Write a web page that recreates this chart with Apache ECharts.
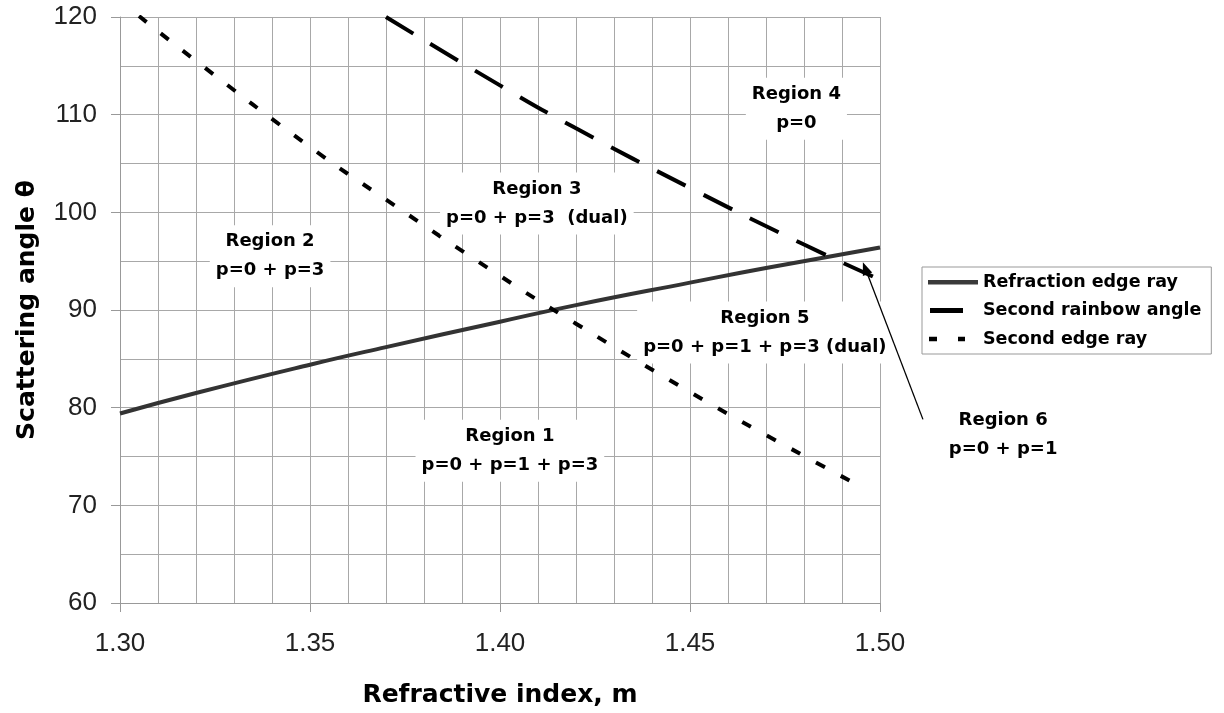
<!DOCTYPE html>
<html><head><meta charset="utf-8">
<script src="https://cdn.jsdelivr.net/npm/echarts@6/dist/echarts.min.js"></script>
<style>html,body{margin:0;padding:0;background:#fff}#c{width:1224px;height:713px}</style>
</head><body><div id="c"></div>
<script>
// Refractive index m (x) and scattering angle theta (y)
const refrM  = [1.30, 1.32, 1.35, 1.37, 1.40, 1.42, 1.45, 1.47, 1.50];
const refrTh = [79.4, 81.5, 84.4, 86.2, 88.8, 90.5, 92.8, 94.3, 96.4];
const rainM  = [1.37, 1.40, 1.42, 1.45, 1.48, 1.50];
const rainTh = [120.0, 113.0, 108.6, 102.5, 96.7, 93.1];
const edgeM  = [1.305, 1.32, 1.35, 1.37, 1.40, 1.42, 1.45, 1.47, 1.495];
const edgeTh = [120.1, 115.5, 106.7, 101.3, 93.5, 88.6, 81.6, 77.2, 71.9];
const seriesNames = ['Refraction edge ray', 'Second rainbow angle', 'Second edge ray'];
// Region annotations (text, m, theta)
const regionText = ['Region 4\np=0', 'Region 3\np=0 + p=3  (dual)', 'Region 2\np=0 + p=3',
                    'Region 5\np=0 + p=1 + p=3 (dual)', 'Region 1\np=0 + p=1 + p=3', 'Region 6\np=0 + p=1'];
const regionM  = [1.478, 1.4097, 1.3395, 1.4697, 1.4026, 1.5324];
const regionTh = [110.6, 100.9, 95.5, 87.7, 75.6, 77.2];
// Arrow from Region 6 label to the region (m, theta)
const arrowFrom = [1.5113, 78.8];
const arrowTo   = [1.4955, 94.9];

const zip = (a, b) => a.map((v, i) => [v, b[i]]);
const tickFont = 'Liberation Sans';
const boldFont = 'DejaVu Sans';
// legend icons in a 50x14 box (leading moveTo points fix the box extent)
const legendIcons = [
  'path://M0,0M50,14M0,5h50v4.5h-50z',
  'path://M0,0M50,14M2,4.5h33v5h-33z',
  'path://M0,0M50,14M1,4.8h8v4.5h-8zM30,4.8h7v4.5h-7z'
];

const chart = echarts.init(document.getElementById('c'), null, {renderer: 'canvas'});
const option = {
  animation: false,
  backgroundColor: '#fff',
  grid: {left: 120, right: 344, top: 17, bottom: 109, containLabel: false},
  xAxis: {
    type: 'value', min: 1.30, max: 1.50, interval: 0.05,
    name: 'Refractive index, m', nameLocation: 'middle', nameGap: 80,
    nameTextStyle: {fontFamily: boldFont, fontWeight: 'bold', fontSize: 25, color: '#000'},
    axisLine: {show: true, lineStyle: {color: '#999', width: 1}},
    axisTick: {show: true, length: 9, inside: false, lineStyle: {color: '#999'}},
    minorTick: {show: true, splitNumber: 5, length: 0},
    splitLine: {show: true, lineStyle: {color: '#a8a8a8', width: 1}},
    minorSplitLine: {show: true, lineStyle: {color: '#a8a8a8', width: 1}},
    axisLabel: {margin: 28, fontFamily: tickFont, fontSize: 26, color: '#222',
                formatter: v => v.toFixed(2)}
  },
  yAxis: {
    type: 'value', min: 60, max: 120, interval: 10,
    name: 'Scattering angle θ', nameLocation: 'middle', nameGap: 80, nameRotate: 90,
    nameTextStyle: {fontFamily: boldFont, fontWeight: 'bold', fontSize: 25, color: '#000'},
    axisLine: {show: true, lineStyle: {color: '#999', width: 1}},
    axisTick: {show: true, length: 9, inside: false, lineStyle: {color: '#999'}},
    minorTick: {show: true, splitNumber: 2, length: 0},
    splitLine: {show: true, lineStyle: {color: '#a8a8a8', width: 1}},
    minorSplitLine: {show: true, lineStyle: {color: '#a8a8a8', width: 1}},
    axisLabel: {margin: 23, fontFamily: tickFont, fontSize: 26, color: '#222'}
  },
  legend: {
    data: seriesNames.map((n, i) => ({name: n, icon: legendIcons[i]})),
    orient: 'vertical', left: 922, top: 267,
    itemWidth: 50, itemHeight: 14, itemGap: 10.5, padding: [6, 10, 6, 6],
    itemStyle: {borderWidth: 0},
    borderColor: '#999', borderWidth: 1, backgroundColor: '#fff',
    textStyle: {fontFamily: boldFont, fontWeight: 'bold', fontSize: 17.5, color: '#000'}
  },
  series: [
    {name: seriesNames[0], type: 'line', data: zip(refrM, refrTh), symbol: 'none', smooth: true,
     lineStyle: {color: '#333', width: 4}, itemStyle: {color: '#3a3a3a'}, z: 3},
    {name: seriesNames[1], type: 'line', data: zip(rainM, rainTh), symbol: 'none', smooth: true,
     lineStyle: {color: '#000', width: 4, type: [32, 20], cap: 'butt'}, itemStyle: {color: '#000'}, z: 3},
    {name: seriesNames[2], type: 'line', data: zip(edgeM, edgeTh), symbol: 'none', smooth: true,
     lineStyle: {color: '#000', width: 4, type: [10, 18], cap: 'butt'}, itemStyle: {color: '#000'}, z: 3},
    {name: 'regions', type: 'scatter', symbolSize: 0, clip: false, silent: true, z: 5,
     itemStyle: {color: '#fff', opacity: 1},
     data: regionText.map((t, i) => ({value: [regionM[i], regionTh[i]], text: t})),
     label: {show: true, position: 'inside', formatter: p => p.data.text, opacity: 1,
             fontFamily: boldFont, fontWeight: 'bold', fontSize: 18, lineHeight: 29,
             color: '#000', textBorderWidth: 0, textBorderColor: 'transparent',
             align: 'center', verticalAlign: 'middle',
             backgroundColor: '#fff', padding: [2, 6]}}
  ]
};
chart.setOption(option);

// Arrow: computed from data coordinates through the chart's scales
const p0 = chart.convertToPixel({gridIndex: 0}, arrowFrom);
const p1 = chart.convertToPixel({gridIndex: 0}, arrowTo);
const dx = p1[0] - p0[0], dy = p1[1] - p0[1];
const len = Math.hypot(dx, dy), ux = dx / len, uy = dy / len;
const hl = 13, hw = 5;
const bx = p1[0] - ux * hl, by = p1[1] - uy * hl;
chart.setOption({
  graphic: [
    {type: 'line', z: 10, shape: {x1: p0[0], y1: p0[1], x2: bx, y2: by},
     style: {stroke: '#000', lineWidth: 1.3}},
    {type: 'polygon', z: 10, shape: {points: [[p1[0], p1[1]],
        [bx - uy * hw, by + ux * hw], [bx + uy * hw, by - ux * hw]]},
     style: {fill: '#000'}}
  ]
});
</script>
</body></html>
